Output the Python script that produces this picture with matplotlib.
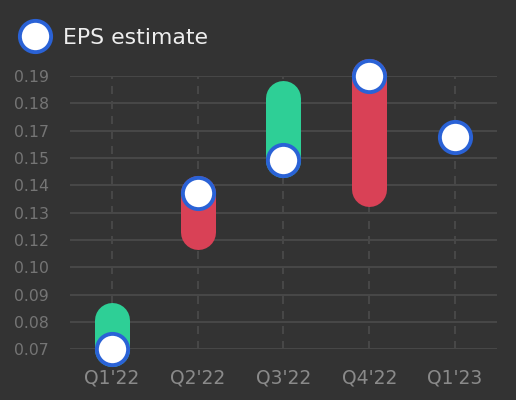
import numpy as np
import matplotlib
matplotlib.use("Agg")
import matplotlib.pyplot as plt
from matplotlib.lines import Line2D

# EPS data
quarters = ["Q1'22", "Q2'22", "Q3'22", "Q4'22", "Q1'23"]
eps_estimate = [0.070, 0.1385, 0.153, 0.190, 0.163]
eps_actual = [0.083, 0.1215, 0.1805, 0.1405, None]

y_min, y_max = 0.07, 0.19
y_tick_labels = ["0.07", "0.08", "0.09", "0.10", "0.12", "0.13",
                 "0.14", "0.15", "0.17", "0.18", "0.19"]

BG = "#333333"
GRID = "#474747"
GREEN = "#2ecf96"
RED = "#d94156"
BLUE = "#2a62d6"

plt.rcParams['font.family'] = ['DejaVu Sans']

fig = plt.figure(figsize=(5.16, 4.0), dpi=100, facecolor=BG)
ax = fig.add_axes([70 / 516, 0.12675, 427 / 516, 0.68325])
ax.set_facecolor(BG)

x = np.arange(len(quarters))

# vertical dashed lines at each category
for xi in x:
    ax.plot([xi, xi], [y_min, y_max], color=GRID, lw=1.44,
            linestyle=(0, (4, 3.5)), zorder=1, clip_on=False)

# range bars between estimate and actual
for xi, est, act in zip(x, eps_estimate, eps_actual):
    if act is None:
        continue
    color = GREEN if act >= est else RED
    ax.plot([xi, xi], [est, act], color=color, lw=25.2,
            solid_capstyle='round', zorder=3, clip_on=False)

# estimate markers
ax.plot(x, eps_estimate, linestyle='none', marker='o', markersize=22.5,
        markerfacecolor='white', markeredgecolor=BLUE, markeredgewidth=2.8,
        zorder=4, clip_on=False)

ax.set_xlim(-0.49, 4.49)
ax.set_ylim(y_min, y_max)
ax.set_yticks(np.linspace(y_min, y_max, len(y_tick_labels)))
ax.set_yticklabels(y_tick_labels)
ax.set_xticks(x)
ax.set_xticklabels(quarters)

ax.yaxis.grid(True, color=GRID, lw=1.44, zorder=0)
ax.set_axisbelow(True)
ax.tick_params(axis='y', length=0, pad=15, labelsize=11.3, labelcolor="#757575")
ax.tick_params(axis='x', length=0, pad=14, labelsize=13.5, labelcolor="#8a8a8a")
for s in ax.spines.values():
    s.set_visible(False)

handle = Line2D([], [], linestyle='none', marker='o', markersize=22.5,
                markerfacecolor='white', markeredgecolor=BLUE,
                markeredgewidth=2.8)
fig.legend([handle], ["EPS estimate"], loc='center left',
           bbox_to_anchor=(23.9 / 516, 1 - 37.5 / 400), frameon=False,
           fontsize=15.8, labelcolor="#eeeeee", handlelength=1.0,
           handletextpad=0.77, borderpad=0, borderaxespad=0)

fig.savefig("out.png", dpi=100, facecolor=BG)
